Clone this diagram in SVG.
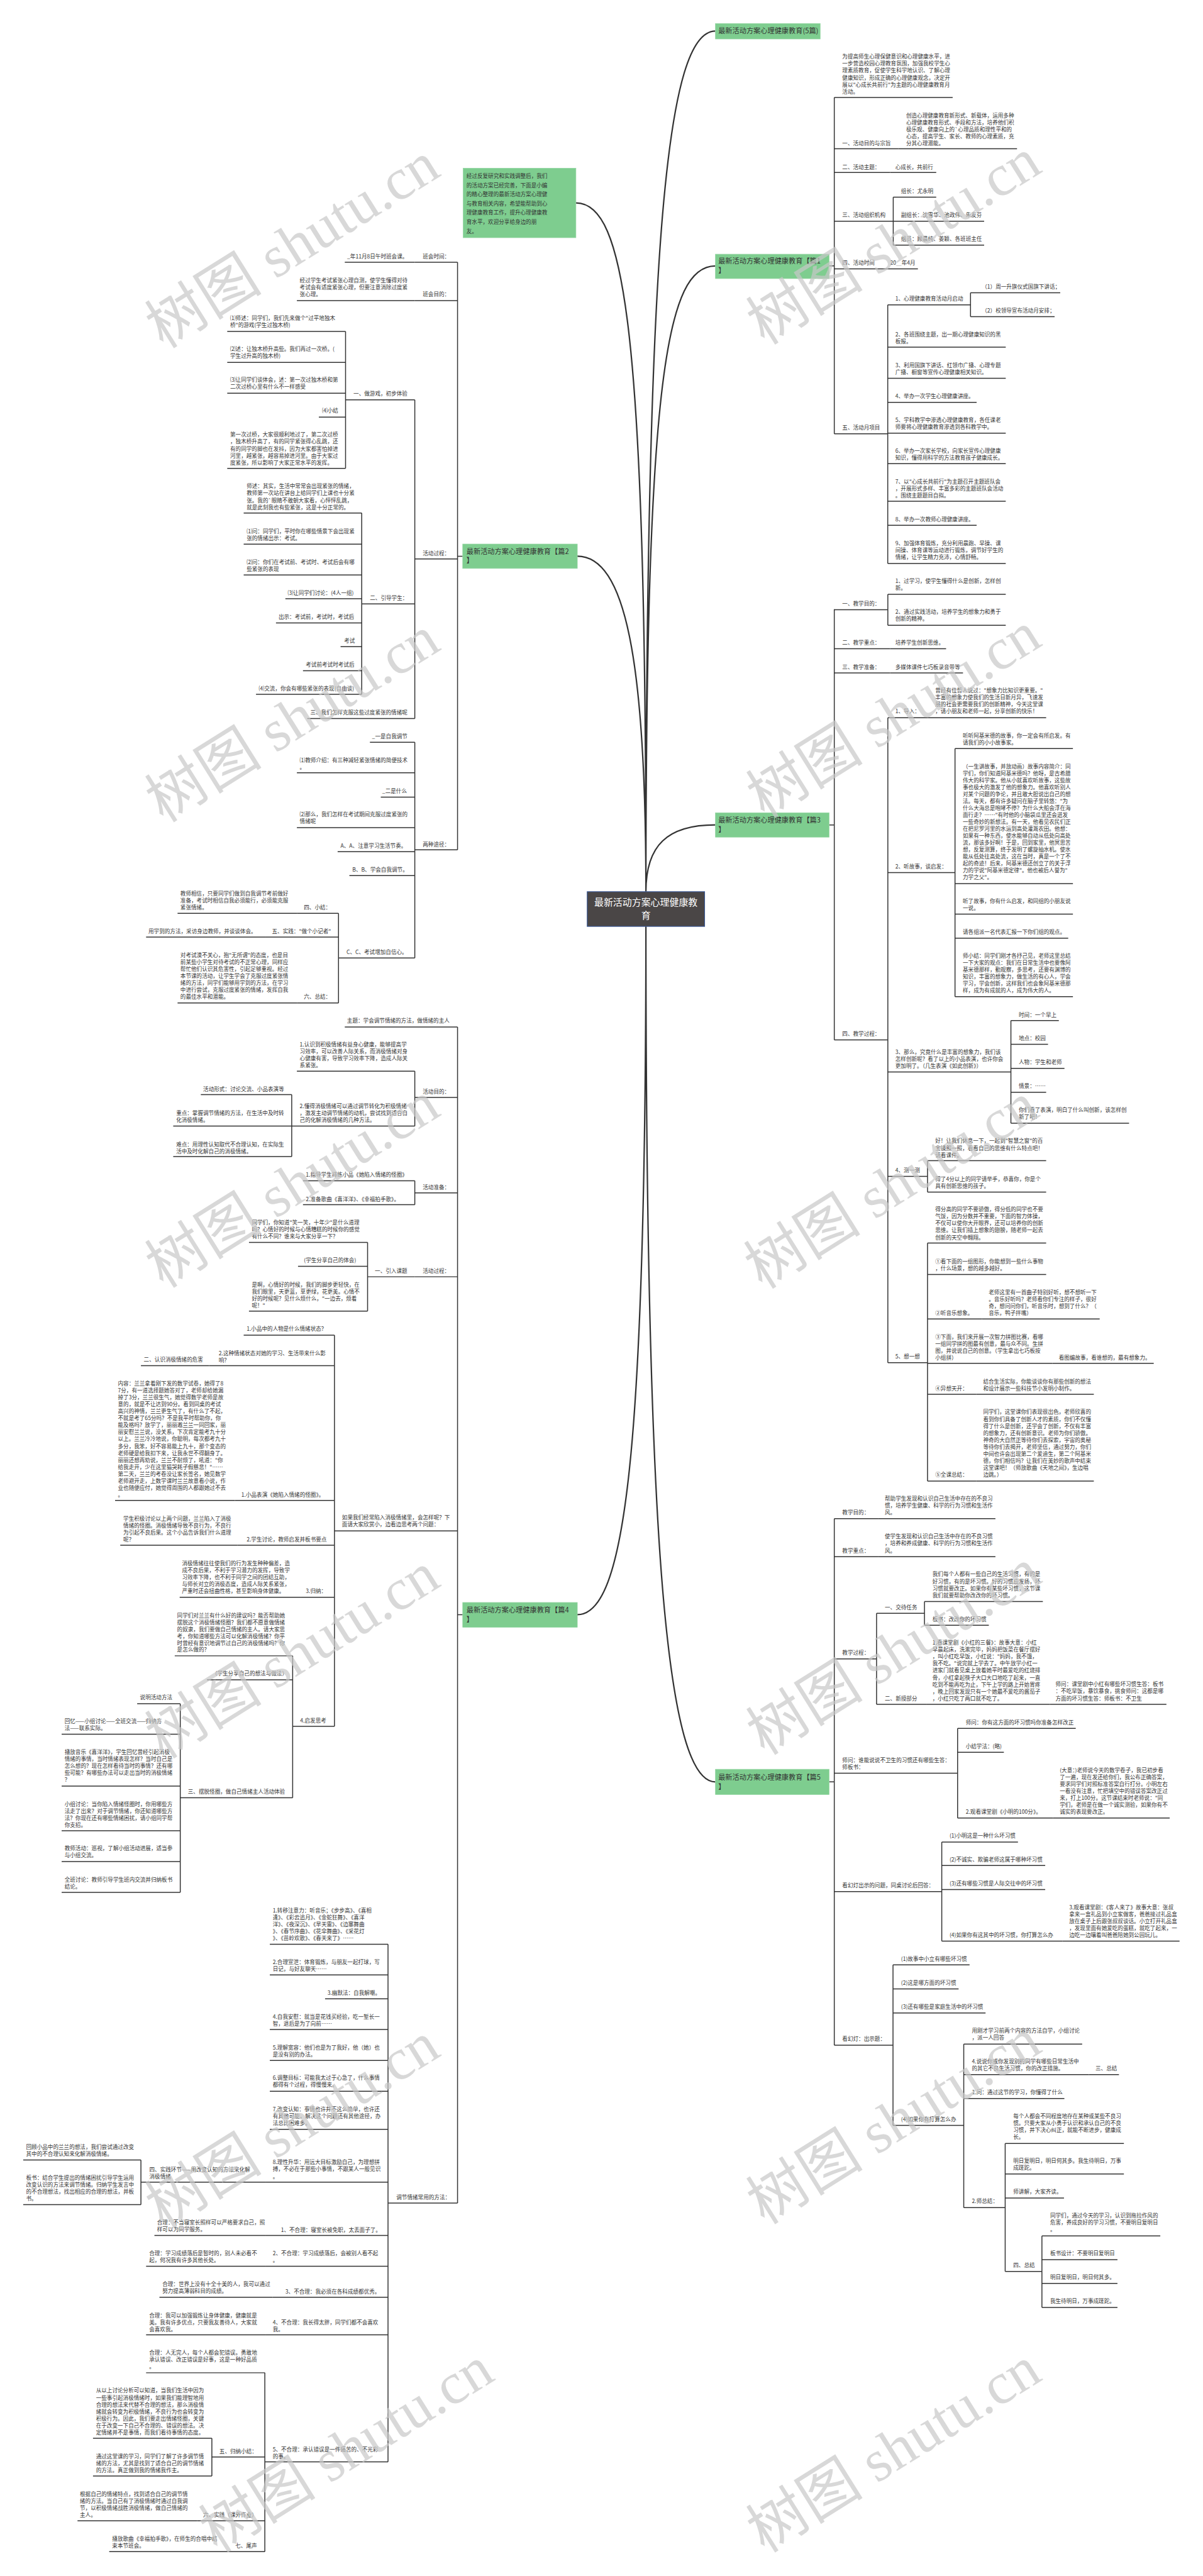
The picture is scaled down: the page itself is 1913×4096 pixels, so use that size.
<svg xmlns="http://www.w3.org/2000/svg" width="1913" height="4096" viewBox="0 0 1913 4096">
<style>
text{font-family:'Noto Sans CJK SC','Noto Sans',sans-serif}
.t{font-size:11.5px;fill:#333}
.u{stroke:#333;stroke-width:2;fill:none}
.c{stroke:#333;stroke-width:2;fill:none}
.cv{stroke:#333;stroke-width:3;fill:none}
.b{fill:#7ecd8f;stroke:#95d6a3;stroke-width:1}
.bt{font-size:15px;fill:#333}
.wm{font-family:'Liberation Serif','Noto Sans CJK SC',serif;font-size:125px;fill:#c8c8c8;fill-opacity:0.7}
</style>
<rect width="1913" height="4096" fill="#fff"/>
<g transform="scale(0.747)">
<g id="connectors">
<path class="cv" d="M1375 1898C1375 500 1420 66 1523 66M1375 1898C1375 800 1420 566 1523 566M1375 1898C1375 700 1330 432 1226 432M1375 1898C1375 1400 1330 1184 1229 1184M1375 1898C1375 1800 1420 1756 1523 1756M1375 1972C1375 3100 1330 3437 1229 3437M1375 1972C1375 3300 1420 3793 1523 3793"/>
<path class="c" d="M1765 566H1776M1776 207.5V923.4M1901.5 419.6V521.9M1889.8 648.8V1199.5M2066 623V674M1765 1756H1776M1776 1296.7V2213.6M1890 1265V1331M1890 1527.8V2900.5M2033 1593.4V2121.4M2152 2172.5V2391M1974.5 2470.5V2537.4M1974.5 2646V3152.5M1765 3793H1776M1776 3232.7V4353.5M1866 3434V3628M1968 3409V3459.4M2038.5 3679V3869.7M2004.8 3921V4132M1901 4182.4V4524M2051.6 4351V4699M2139.8 4562.5V4835M2218 4759.4V4911.6"/>
<path class="c" d="M985 1184H974M974 558.3V1809M883 851V1529.6M735.6 705.6V997M770 1092V1478M883 1580V2039M720.6 1944V2135M985 3437H974M974 2186V4689.4M883 2280V2397M621 2330V2462M883 2513.5V2564.4M782.5 2644.7V2790.7M712 2842V3674.6M623 3524.6V3826.7M383.75 3626.4V4028M826 4138.7V5240.4M300 4597.6V4692.8M563.75 5050.7V5431.4M451 5190V5270.5"/>
</g>

<g id="center"><rect x="1250" y="1898" width="250" height="74" fill="#4a4646" stroke="#3a5a9a" stroke-width="1.5"/><text x="1375" y="1928" text-anchor="middle" font-size="20" fill="#fff">最新活动方案心理健康教<tspan x="1375" dy="27.5">育</tspan></text></g>

<g id="note"><rect x="986" y="358" width="240" height="148" fill="#7ecd8f" stroke="#95d6a3"/><text class="t" font-size="13" x="993" y="379">经过反复研究和实践调整后，我们<tspan x="993" dy="19.5">的活动方案已经完善，下面是小编</tspan><tspan x="993" dy="19.5">的精心整理的最新活动方案心理健</tspan><tspan x="993" dy="19.5">与教育相关内容，希望能帮助到心</tspan><tspan x="993" dy="19.5">理健康教育工作，提升心理健康教</tspan><tspan x="993" dy="19.5">育水平，欢迎分享给身边的朋</tspan><tspan x="993" dy="19.5">友。</tspan></text></g>

<g id="b0"><rect class="b" x="1523" y="50" width="223" height="33"/><text class="bt" x="1529" y="71">最新活动方案心理健康教育(5篇)</text></g>
<g id="b1"><rect class="b" x="1523" y="541" width="242" height="52"/><text class="bt" x="1529" y="561">最新活动方案心理健康教育【篇1<tspan x="1529" dy="19.6">】</tspan></text></g>
<g id="b3"><rect class="b" x="1523" y="1730" width="242" height="52"/><text class="bt" x="1529" y="1751">最新活动方案心理健康教育【篇3<tspan x="1529" dy="19.6">】</tspan></text></g>
<g id="b5"><rect class="b" x="1523" y="3766" width="242" height="54"/><text class="bt" x="1529" y="3789">最新活动方案心理健康教育【篇5<tspan x="1529" dy="19.6">】</tspan></text></g>
<g id="b2"><rect class="b" x="985" y="1158" width="244" height="52"/><text class="bt" x="993" y="1179">最新活动方案心理健康教育【篇2<tspan x="993" dy="19.6">】</tspan></text></g>
<g id="b4"><rect class="b" x="985" y="3411" width="244" height="53"/><text class="bt" x="993" y="3433">最新活动方案心理健康教育【篇4<tspan x="993" dy="19.6">】</tspan></text></g>

<g id="p1-intro"><text class="t" x="1793" y="125">为提高师生心理保健意识和心理健康水平，进<tspan x="1793" dy="14.8">一步营造校园心理教育氛围，加强我校学生心</tspan><tspan x="1793" dy="14.8">理素质教育，促使学生科学地认识、了解心理</tspan><tspan x="1793" dy="14.8">健康知识，形成正确的心理健康观念，决定开</tspan><tspan x="1793" dy="14.8">展以"心成长共前行"为主题的心理健康教育月</tspan><tspan x="1793" dy="14.8">活动。</tspan></text><path class="u" d="M1776 207.5H2028"/></g>
<g id="p1-a"><text class="t" x="1793" y="309">一、活动目的与宗旨</text><path class="u" d="M1776 316.7H1912"/></g>
<g id="p1-a1"><text class="t" x="1929" y="250">创造心理健康教育新形式、新载体，运用多种<tspan x="1929" dy="14.8">心理健康教育形式、手段和方法，培养他们积</tspan><tspan x="1929" dy="14.8">极乐观、健康向上的`心理品质和理性平和的</tspan><tspan x="1929" dy="14.8">心态，提高学生、家长、教师的心理素质，充</tspan><tspan x="1929" dy="14.8">分其心理潜能。</tspan></text><path class="u" d="M1912 316.7H2165"/></g>
<g id="p1-b"><text class="t" x="1793" y="360.5">二、活动主题：</text><path class="u" d="M1776 367H1895"/></g>
<g id="p1-b1"><text class="t" x="1906" y="360.5">心成长，共前行</text><path class="u" d="M1895 367H1993"/></g>
<g id="p1-c"><text class="t" x="1793" y="461.5">三、活动组织机构</text><path class="u" d="M1776 470.8H1901.5"/></g>
<g id="p1-c1"><text class="t" x="1918" y="411">组长：尤永明</text><path class="u" d="M1901.5 419.6H1993"/></g>
<g id="p1-c2"><text class="t" x="1918" y="461.5">副组长：沈雪华、池政伟、朱友芬</text><path class="u" d="M1901.5 470.8H2095"/></g>
<g id="p1-c3"><text class="t" x="1918" y="512.6">组员：顾晨纯、姜颖、各班班主任</text><path class="u" d="M1901.5 521.9H2095"/></g>
<g id="p1-d"><text class="t" x="1793" y="563">四、活动时间</text><path class="u" d="M1776 572.4H1880"/></g>
<g id="p1-d1"><text class="t" x="1895" y="563">20＿年4月</text><path class="u" d="M1880 572.4H1954"/></g>
<g id="p1-e"><text class="t" x="1793" y="914.8">五、活动月项目</text><path class="u" d="M1776 923.4H1889.8"/></g>
<g id="p1-e1"><text class="t" x="1906" y="640">1、心理健康教育活动月启动</text><path class="u" d="M1889.8 648.8H2066"/></g>
<g id="p1-e1a"><text class="t" x="2090" y="614">（1）周一升旗仪式国旗下讲话；</text><path class="u" d="M2066 623H2257"/></g>
<g id="p1-e1b"><text class="t" x="2090" y="665">（2）校领导宣布活动月安排；</text><path class="u" d="M2066 674H2245"/></g>
<g id="p1-e2"><text class="t" x="1906" y="716.5">2、各班围绕主题，出一期心理健康知识的黑<tspan x="1906" dy="14.8">板报。</tspan></text><path class="u" d="M1889.8 739H2141"/></g>
<g id="p1-e3"><text class="t" x="1906" y="781.6">3、利用国旗下讲话、红领巾广播、心理专题<tspan x="1906" dy="14.8">广播、橱窗等宣传心理健康相关知识。</tspan></text><path class="u" d="M1889.8 805.3H2141"/></g>
<g id="p1-e4"><text class="t" x="1906" y="848">4、举办一次学生心理健康讲座。</text><path class="u" d="M1889.8 856.5H2079"/></g>
<g id="p1-e5"><text class="t" x="1906" y="898">5、学科教学中渗透心理健康教育，各任课老<tspan x="1906" dy="14.8">师要将心理健康教育渗透到各科教学中。</tspan></text><path class="u" d="M1889.8 922H2141"/></g>
<g id="p1-e6"><text class="t" x="1906" y="964">6、举办一次家长学校，向家长宣传心理健康<tspan x="1906" dy="14.8">知识，懂得用科学的方法教育孩子健康成长。</tspan></text><path class="u" d="M1889.8 987H2141"/></g>
<g id="p1-e7"><text class="t" x="1906" y="1029">7、以"心成长共前行"为主题召开主题班队会<tspan x="1906" dy="14.8">，开展形式多样、丰富多彩的主题班队会活动</tspan><tspan x="1906" dy="14.8">。围绕主题题目自拟。</tspan></text><path class="u" d="M1889.8 1067H2141"/></g>
<g id="p1-e8"><text class="t" x="1906" y="1110">8、举办一次教师心理健康讲座。</text><path class="u" d="M1889.8 1118H2079"/></g>
<g id="p1-e9"><text class="t" x="1906" y="1160.6">9、加强体育锻炼，充分利用晨跑、早操、课<tspan x="1906" dy="14.8">间操、体育课等运动进行锻炼，调节好学生的</tspan><tspan x="1906" dy="14.8">情绪，让学生精力充沛，心情舒畅。</tspan></text><path class="u" d="M1889.8 1199.5H2141"/></g>

<g id="p3-a"><text class="t" x="1793" y="1289.4">一、教学目的：</text><path class="u" d="M1776 1298H1890"/></g>
<g id="p3-a1"><text class="t" x="1906" y="1241">1、过学习，使学生懂得什么是创新，怎样创<tspan x="1906" dy="14.8">新。</tspan></text><path class="u" d="M1890 1265H2141"/></g>
<g id="p3-a2"><text class="t" x="1906" y="1307">2、通过实践活动，培养学生的想象力和勇于<tspan x="1906" dy="14.8">创新的精神。</tspan></text><path class="u" d="M1890 1331H2141"/></g>
<g id="p3-b"><text class="t" x="1793" y="1372.7">二、教学重点：</text><path class="u" d="M1776 1381H1895"/></g>
<g id="p3-b1"><text class="t" x="1906" y="1372.7">培养学生创新思维。</text><path class="u" d="M1895 1381H2014"/></g>
<g id="p3-c"><text class="t" x="1793" y="1423.8">三、教学准备：</text><path class="u" d="M1776 1432.4H1895"/></g>
<g id="p3-c1"><text class="t" x="1906" y="1423.8">多媒体课件七巧板录音带等</text><path class="u" d="M1895 1432.4H2050"/></g>
<g id="p3-d"><text class="t" x="1793" y="2205">四、教学过程：</text><path class="u" d="M1776 2213.6H1890"/></g>
<g id="p3-d1"><text class="t" x="1906" y="1518.5">1、导入：</text><path class="u" d="M1890 1527.8H1975"/></g>
<g id="p3-d1a"><text class="t" x="1991" y="1474">曾经有位哲人说过："想象力比知识更重要。"<tspan x="1991" dy="14.8">丰富的想象力使我们的生活日新月异，飞速发</tspan><tspan x="1991" dy="14.8">展的社会更需要我们的创新精神，今天这堂课</tspan><tspan x="1991" dy="14.8">，请小朋友和老师一起，分享创新的快乐！</tspan></text><path class="u" d="M1975 1527.8H2227"/></g>
<g id="p3-d2"><text class="t" x="1906" y="1848.7">2、听故事，谈启发：</text><path class="u" d="M1890 1857.3H2033"/></g>
<g id="p3-d2a"><text class="t" x="2049.6" y="1569.7">听听阿基米德的故事，你一定会有所启发。有<tspan x="2049.6" dy="14.8">请我们的小小故事家。</tspan></text><path class="u" d="M2033 1593.4H2284"/></g>
<g id="p3-d2b"><text class="t" x="2049.6" y="1635.3">（一生讲故事，并放动画）故事内容简介：同<tspan x="2049.6" dy="14.8">学们，你们知道阿基米德吗？他呀，是古希腊</tspan><tspan x="2049.6" dy="14.8">伟大的科学家。他从小就喜欢听故事，这些故</tspan><tspan x="2049.6" dy="14.8">事也极大的激发了他的想象力。他喜欢听别人</tspan><tspan x="2049.6" dy="14.8">对某个问题的争论，并且敢大胆说出自己的想</tspan><tspan x="2049.6" dy="14.8">法。每天，都有许多疑问在脑子里转悠："为</tspan><tspan x="2049.6" dy="14.8">什么大海总是咆哮不停？为什么大船会浮在海</tspan><tspan x="2049.6" dy="14.8">面行走？……"有时他的小脑袋瓜里还会迸发</tspan><tspan x="2049.6" dy="14.8">一些奇妙的新想法。有一天，他看见农民们正</tspan><tspan x="2049.6" dy="14.8">在把尼罗河里的水运到高处灌溉农田。他想：</tspan><tspan x="2049.6" dy="14.8">如果有一种东西，使水能够自动从低处向高处</tspan><tspan x="2049.6" dy="14.8">流，那该多好啊！于是，回到家里，他冥思苦</tspan><tspan x="2049.6" dy="14.8">想，反复测算，终于发明了螺旋抽水机。使水</tspan><tspan x="2049.6" dy="14.8">能从低处往高处流，这在当时，真是一个了不</tspan><tspan x="2049.6" dy="14.8">起的奇迹！后来，阿基米德还创立了的关于浮</tspan><tspan x="2049.6" dy="14.8">力的学说"阿基米德定律"。他也被后人誉为"</tspan><tspan x="2049.6" dy="14.8">力学之父"。</tspan></text><path class="u" d="M2033 1880.7H2284"/></g>
<g id="p3-d2c"><text class="t" x="2049.6" y="1922.6">听了故事，你有什么启发，和同组的小朋友说<tspan x="2049.6" dy="14.8">一说。</tspan></text><path class="u" d="M2033 1945.7H2284"/></g>
<g id="p3-d2d"><text class="t" x="2049.6" y="1988">请各组派一名代表汇报一下你们组的观点。</text><path class="u" d="M2033 1997H2274"/></g>
<g id="p3-d2e"><text class="t" x="2049.6" y="2039">师小结：同学们刚才各抒己见，老师这里总结<tspan x="2049.6" dy="14.8">一下大家的观点：我们在日常生活中也要像阿</tspan><tspan x="2049.6" dy="14.8">基米德那样，勤观察，多思考，还要有渊博的</tspan><tspan x="2049.6" dy="14.8">知识，丰富的想象力，做生活的有心人，学会</tspan><tspan x="2049.6" dy="14.8">学习，学会创新，这样我们也会象阿基米德那</tspan><tspan x="2049.6" dy="14.8">样，成为有成就的人，成为伟大的人。</tspan></text><path class="u" d="M2033 2121.4H2284"/></g>
<g id="p3-d3"><text class="t" x="1906" y="2243.5">3、那么，究竟什么是丰富的想象力，我们该<tspan x="1906" dy="14.8">怎样创新呢？看了以上的小品表演，也许你会</tspan><tspan x="1906" dy="14.8">更加明了。（几生表演《如此创新》）</tspan></text><path class="u" d="M1890 2281.8H2152"/></g>
<g id="p3-d3a"><text class="t" x="2168.7" y="2164">时间：一个早上</text><path class="u" d="M2152 2172.5H2254"/></g>
<g id="p3-d3b"><text class="t" x="2168.7" y="2214.4">地点：校园</text><path class="u" d="M2152 2223H2231"/></g>
<g id="p3-d3c"><text class="t" x="2168.7" y="2265.6">人物：学生和老师</text><path class="u" d="M2152 2274H2266"/></g>
<g id="p3-d3d"><text class="t" x="2168.7" y="2316">情景：……</text><path class="u" d="M2152 2325H2227"/></g>
<g id="p3-d3e"><text class="t" x="2168.7" y="2367">你们看了表演，明白了什么叫创新，该怎样创<tspan x="2168.7" dy="14.8">新了吧！</tspan></text><path class="u" d="M2152 2391H2403.5"/></g>
<g id="p3-d4"><text class="t" x="1906" y="2495.4">4、测一测</text><path class="u" d="M1890 2504H1974.5"/></g>
<g id="p3-d4a"><text class="t" x="1991" y="2433">好！让我们休息一下，一起到"智慧之窗"的百<tspan x="1991" dy="14.8">宝镜照一照，看看自己的思维有什么特点吧！</tspan><tspan x="1991" dy="14.8">请看课件。</tspan></text><path class="u" d="M1974.5 2470.5H2227"/></g>
<g id="p3-d4b"><text class="t" x="1991" y="2513.7">得了4分以上的同学请举手，恭喜你，你是个<tspan x="1991" dy="14.8">具有创新思维的孩子。</tspan></text><path class="u" d="M1974.5 2537.4H2227"/></g>
<g id="p3-d5"><text class="t" x="1906" y="2891">5、想一想</text><path class="u" d="M1890 2900.5H1974.5"/></g>
<g id="p3-d5a"><text class="t" x="1991" y="2578.7">得分高的同学不要骄傲，得分低的同学也不要<tspan x="1991" dy="14.8">气馁，因为分数并不重要，下面的智力体操，</tspan><tspan x="1991" dy="14.8">不仅可以使你大开眼界，还可以培养你的创新</tspan><tspan x="1991" dy="14.8">思维。让我们插上想象的翅膀，随老师一起去</tspan><tspan x="1991" dy="14.8">创新的天空中翱翔。</tspan></text><path class="u" d="M1974.5 2646H2227"/></g>
<g id="p3-d5b"><text class="t" x="1991" y="2689">①看下面的一组图形，你能想到一些什么事物<tspan x="1991" dy="14.8">，什么场景，想的越多越好。</tspan></text><path class="u" d="M1974.5 2713H2227"/></g>
<g id="p3-d5c"><text class="t" x="1991" y="2799">②听音乐想象。</text><path class="u" d="M1974.5 2807.7H2090"/></g>
<g id="p3-d5c1"><text class="t" x="2104.7" y="2755">老师这里有一首曲子特别好听，想不想听一下<tspan x="2104.7" dy="14.8">。音乐好听吗？老师看你们专注的样子，很好</tspan><tspan x="2104.7" dy="14.8">奇，想问问你们，听音乐时，想到了什么？（</tspan><tspan x="2104.7" dy="14.8">音乐，鸭子拌嘴）</tspan></text><path class="u" d="M2090 2807.7H2341"/></g>
<g id="p3-d5d"><text class="t" x="1991" y="2850">③下面，我们来开展一次智力拼图比赛，看哪<tspan x="1991" dy="14.8">一组同学拼的图最有创意，最与众不同。生拼</tspan><tspan x="1991" dy="14.8">图，并说说自己的创意。（学生拿出七巧板按</tspan><tspan x="1991" dy="14.8">小组拼）</tspan></text><path class="u" d="M1974.5 2902H2240"/></g>
<g id="p3-d5d1"><text class="t" x="2254" y="2893.7">看图编故事，看谁想的，最有想象力。</text><path class="u" d="M2240 2902H2456"/></g>
<g id="p3-d5e"><text class="t" x="1991" y="2960">④异想天开：</text><path class="u" d="M1974.5 2968H2078"/></g>
<g id="p3-d5e1"><text class="t" x="2093" y="2945">结合生活实际，你能谈谈你有那些创新的想法<tspan x="2093" dy="14.8">和设计展示一些科技节小发明小制作。</tspan></text><path class="u" d="M2078 2968H2328.5"/></g>
<g id="p3-d5f"><text class="t" x="1991" y="3143.3">⑤全课总结：</text><path class="u" d="M1974.5 3152.5H2078"/></g>
<g id="p3-d5f1"><text class="t" x="2093" y="3010">同学们，这堂课你们表现很出色，老师欣喜的<tspan x="2093" dy="14.8">看到你们具备了创新人才的素质，你们不仅懂</tspan><tspan x="2093" dy="14.8">得了什么是创新，还学会了创新，不仅有丰富</tspan><tspan x="2093" dy="14.8">的想象力，还有创新意识。老师为你们骄傲。</tspan><tspan x="2093" dy="14.8">神奇的大自然正等待你们去探索，宇宙的奥秘</tspan><tspan x="2093" dy="14.8">等待你们去揭开，老师坚信，通过努力，你们</tspan><tspan x="2093" dy="14.8">中间也许会出现第二个爱迪生，第二个阿基米</tspan><tspan x="2093" dy="14.8">德，你们相信吗？让我们在美妙的歌声中结束</tspan><tspan x="2093" dy="14.8">这堂课吧！（师放歌曲《天地之间》，生边唱</tspan><tspan x="2093" dy="14.8">边跳。）</tspan></text><path class="u" d="M2078 3152.5H2328.5"/></g>

<g id="p5-a"><text class="t" x="1793" y="3223.5">教学目的：</text><path class="u" d="M1776 3232.7H1870"/></g>
<g id="p5-a1"><text class="t" x="1883.6" y="3194.4">帮助学生发现和认识自己生活中存在的不良习<tspan x="1883.6" dy="14.8">惯，培养学生健康、科学的行为习惯和生活作</tspan><tspan x="1883.6" dy="14.8">风。</tspan></text><path class="u" d="M1870 3232.7H2119"/></g>
<g id="p5-b"><text class="t" x="1793" y="3305">教学重点：</text><path class="u" d="M1776 3313.5H1870"/></g>
<g id="p5-b1"><text class="t" x="1883.6" y="3275">使学生发现和认识自己生活中存在的不良习惯<tspan x="1883.6" dy="14.8">，培养和养成健康、科学的行为习惯和生活作</tspan><tspan x="1883.6" dy="14.8">风。</tspan></text><path class="u" d="M1870 3313.5H2119"/></g>
<g id="p5-c"><text class="t" x="1793" y="3522">教学过程：</text><path class="u" d="M1776 3531H1866"/></g>
<g id="p5-c1"><text class="t" x="1883.6" y="3425.5">一、交待任务</text><path class="u" d="M1866 3434H1968"/></g>
<g id="p5-c1a"><text class="t" x="1985" y="3355.4">我们每个人都有一些自己的生活习惯，有的是<tspan x="1985" dy="14.8">好习惯，有的是坏习惯。好的习惯应发扬，坏</tspan><tspan x="1985" dy="14.8">习惯就要改正。如果你有某些坏习惯，这节课</tspan><tspan x="1985" dy="14.8">我们就要帮助你改改你的坏习惯。</tspan></text><path class="u" d="M1968 3409H2220"/></g>
<g id="p5-c1b"><text class="t" x="1985" y="3450.7">板书：改改你的坏习惯</text><path class="u" d="M1968 3459.4H2105"/></g>
<g id="p5-c2"><text class="t" x="1883.6" y="3619.3">二、新授部分</text><path class="u" d="M1866 3628H1972"/></g>
<g id="p5-c2a"><text class="t" x="1985" y="3501">1.看课堂剧《小红的三餐》：故事大意：小红<tspan x="1985" dy="14.8">早晨起床，洗漱完毕，妈妈把饭菜在餐厅摆好</tspan><tspan x="1985" dy="14.8">，叫小红吃早饭，小红说："妈妈，我不饿，</tspan><tspan x="1985" dy="14.8">我不吃。"说完就上学去了。中午放学小红一</tspan><tspan x="1985" dy="14.8">进家门就看见桌上放着她平时最爱吃的红烧排</tspan><tspan x="1985" dy="14.8">骨，小红拿起筷子大口大口地吃了起来，一直</tspan><tspan x="1985" dy="14.8">吃到不能再吃为止，下午上学的路上开始胃疼</tspan><tspan x="1985" dy="14.8">，晚上回家发现只有一个她最不爱吃的酱茄子</tspan><tspan x="1985" dy="14.8">，小红只吃了两口就不吃了。</tspan></text><path class="u" d="M1972 3628H2235"/></g>
<g id="p5-c2b"><text class="t" x="2247" y="3589.6">师问：课堂剧中小红有哪些坏习惯生答：板书<tspan x="2247" dy="14.8">：不吃早饭，暴饮暴食，挑食师问：这都是哪</tspan><tspan x="2247" dy="14.8">方面的坏习惯生答：师板书：不卫生</tspan></text><path class="u" d="M2235 3628H2483"/></g>
<g id="p5-d"><text class="t" x="1793" y="3750.6">师问：谁能说说不卫生的习惯还有哪些生答：<tspan x="1793" dy="14.8">师板书：</tspan></text><path class="u" d="M1776 3774.4H2038.5"/></g>
<g id="p5-d1"><text class="t" x="2055.8" y="3670.4">师问：你有这方面的坏习惯吗你准备怎样改正</text><path class="u" d="M2038.5 3679H2290"/></g>
<g id="p5-d2"><text class="t" x="2055.8" y="3721.6">小结学法：(略)</text><path class="u" d="M2038.5 3730H2137"/></g>
<g id="p5-d3"><text class="t" x="2055.8" y="3860.5">2.观看课堂剧《小明的100分》。</text><path class="u" d="M2038.5 3869.7H2242"/></g>
<g id="p5-d3a"><text class="t" x="2256" y="3772">(大意：)老师说今天的数学卷子，我已初步看<tspan x="2256" dy="14.8">了一遍，现在发还给你们，我公布正确答案，</tspan><tspan x="2256" dy="14.8">要求同学们对照标准答案自行打分。小明左右</tspan><tspan x="2256" dy="14.8">一看没有注意，忙把填空中的错误答案改正过</tspan><tspan x="2256" dy="14.8">来，打上100分。这节课结束时老师说："同</tspan><tspan x="2256" dy="14.8">学们，老师是在做一个诚实测验，如果你有不</tspan><tspan x="2256" dy="14.8">诚实的表现要改正。</tspan></text><path class="u" d="M2242 3869.7H2490"/></g>
<g id="p5-e"><text class="t" x="1793" y="4017.2">看幻灯出示的问题，同桌讨论后回答：</text><path class="u" d="M1776 4026.5H2004.8"/></g>
<g id="p5-e1"><text class="t" x="2021.3" y="3911">(1)小明这是一种什么坏习惯</text><path class="u" d="M2004.8 3921H2167"/></g>
<g id="p5-e2"><text class="t" x="2021.3" y="3963">(2)不诚实、欺骗老师这属于哪种坏习惯</text><path class="u" d="M2004.8 3971H2225"/></g>
<g id="p5-e3"><text class="t" x="2021.3" y="4013.4">(3)还有哪些习惯是人际交往中的坏习惯</text><path class="u" d="M2004.8 4022H2225"/></g>
<g id="p5-e4"><text class="t" x="2021.3" y="4123.3">(4)如果你有这其中的坏习惯，你打算怎么办</text><path class="u" d="M2004.8 4132H2262"/></g>
<g id="p5-e4a"><text class="t" x="2276" y="4064">3.观看课堂剧：《客人来了》故事大意：张叔<tspan x="2276" dy="14.8">拿来一盒礼品到小立家做客，爸爸接过礼品盒</tspan><tspan x="2276" dy="14.8">放在桌子上后跟张叔叔谈话。小立打开礼品盒</tspan><tspan x="2276" dy="14.8">，发现里面有她爱吃的蛋糕，就吃了起来，一</tspan><tspan x="2276" dy="14.8">边吃一边嚷着叫爸爸陪她到公园玩儿。</tspan></text><path class="u" d="M2262 4132H2511"/></g>
<g id="p5-f"><text class="t" x="1793" y="4344">看幻灯：出示题：</text><path class="u" d="M1776 4353.5H1901"/></g>
<g id="p5-f1"><text class="t" x="1918" y="4173.8">(1)故事中小立有哪些坏习惯</text><path class="u" d="M1901 4182.4H2064"/></g>
<g id="p5-f2"><text class="t" x="1918" y="4225">(2)这是哪方面的坏习惯</text><path class="u" d="M1901 4233.6H2040.6"/></g>
<g id="p5-f3"><text class="t" x="1918" y="4276">(3)还有哪些是家庭生活中的坏习惯</text><path class="u" d="M1901 4284.7H2098"/></g>
<g id="p5-f4"><text class="t" x="1918" y="4515.3">(4)如果你有打算怎么办</text><path class="u" d="M1901 4524H2051.6"/></g>
<g id="p5-f4a"><text class="t" x="2069" y="4326.6">用刚才学习前两个内容的方法自学，小组讨论<tspan x="2069" dy="14.8">，派一人回答</tspan></text><path class="u" d="M2051.6 4351H2303.7"/></g>
<g id="p5-f4b"><text class="t" x="2069" y="4392">4.说说你或你发现别的同学有哪些日常生活中<tspan x="2069" dy="14.8">的其它不良生活习惯，你的改正措施。</tspan></text><path class="u" d="M2051.6 4416H2318"/></g>
<g id="p5-f4b1"><text class="t" x="2332" y="4407.4">三、总结</text><path class="u" d="M2318 4416H2382"/></g>
<g id="p5-f4c"><text class="t" x="2069" y="4458.5">1.问：通过这节的学习，你懂得了什么</text><path class="u" d="M2051.6 4467H2265.8"/></g>
<g id="p5-f4d"><text class="t" x="2069" y="4689.6">2.师总结：</text><path class="u" d="M2051.6 4699H2139.8"/></g>
<g id="p5-f4d1"><text class="t" x="2157" y="4509">每个人都会不同程度地存在某种或某些不良习<tspan x="2157" dy="14.8">惯。只要大家从小勇于认识和承认自己的不良</tspan><tspan x="2157" dy="14.8">习惯，并下决心纠正，就能不断进步，健康成</tspan><tspan x="2157" dy="14.8">长。</tspan></text><path class="u" d="M2139.8 4562.5H2392.5"/></g>
<g id="p5-f4d2"><text class="t" x="2157" y="4604">明日复明日，明日何其多。我生待明日，万事<tspan x="2157" dy="14.8">成蹉跎。</tspan></text><path class="u" d="M2139.8 4627.5H2392.5"/></g>
<g id="p5-f4d3"><text class="t" x="2157" y="4670">师讲解，大家齐读。</text><path class="u" d="M2139.8 4678.6H2265"/></g>
<g id="p5-f4d4"><text class="t" x="2157" y="4826">四、总结</text><path class="u" d="M2139.8 4835H2218"/></g>
<g id="p5-f4d4a"><text class="t" x="2235.5" y="4720.5">同学们，通过今天的学习，认识到拖拉作风的<tspan x="2235.5" dy="14.8">危害，养成良好的学习习惯，不要明日复明日</tspan><tspan x="2235.5" dy="14.8">。</tspan></text><path class="u" d="M2218 4759.4H2470"/></g>
<g id="p5-f4d4b"><text class="t" x="2235.5" y="4800.7">板书设计：不要明日复明日</text><path class="u" d="M2218 4810H2378.8"/></g>
<g id="p5-f4d4c"><text class="t" x="2235.5" y="4851.8">明日复明日，明日何其多。</text><path class="u" d="M2218 4860.5H2378.8"/></g>
<g id="p5-f4d4d"><text class="t" x="2235.5" y="4902">我生待明日，万事成蹉跎。</text><path class="u" d="M2218 4911.6H2378.8"/></g>

<g id="p2-a"><text class="t" x="900" y="550">班会时间：</text><path class="u" d="M883 558.3H974"/></g>
<g id="p2-a1"><text class="t" x="739" y="550">_年11月8日午时班会课。</text><path class="u" d="M734 558.3H883"/></g>
<g id="p2-b"><text class="t" x="900" y="630.6">班会目的：</text><path class="u" d="M883 640H974"/></g>
<g id="p2-b1"><text class="t" x="638" y="601">经过学生考试紧张心理自测，使学生懂得对待<tspan x="638" dy="14.8">考试会有适度紧张心理，但要注意消除过度紧</tspan><tspan x="638" dy="14.8">张心理。</tspan></text><path class="u" d="M632 640H883"/></g>
<g id="p2-c"><text class="t" x="900" y="1181.6">活动过程：</text><path class="u" d="M883 1189.7H974"/></g>
<g id="p2-c1"><text class="t" x="752.5" y="842">一、做游戏，初步体验</text><path class="u" d="M735.6 851H883"/></g>
<g id="p2-c1a"><text class="t" x="490" y="681.6">⑴师述：同学们，我们先来做个"过平地独木<tspan x="490" dy="14.8">桥"的游戏(学生过独木桥)</tspan></text><path class="u" d="M483.75 705.6H735.6"/></g>
<g id="p2-c1b"><text class="t" x="490" y="747">⑵述：让独木桥升高些。我们再过一次桥。(<tspan x="490" dy="14.8">学生过升高的独木桥)</tspan></text><path class="u" d="M483.75 771.3H735.6"/></g>
<g id="p2-c1c"><text class="t" x="490" y="813">⑶让同学们谈体会，述：第一次过独木桥和第<tspan x="490" dy="14.8">二次过桥心里有什么不一样感受</tspan></text><path class="u" d="M483.75 837H735.6"/></g>
<g id="p2-c1d"><text class="t" x="685.6" y="878.6">⑷小结</text><path class="u" d="M678.75 888H735.6"/></g>
<g id="p2-c1e"><text class="t" x="490" y="929.6">第一次过桥，大家很顺利地过了，第二次过桥<tspan x="490" dy="14.8">，独木桥升高了，有的同学紧张得心乱跳，还</tspan><tspan x="490" dy="14.8">有的同学的脚也在发抖，因为大家都害怕掉进</tspan><tspan x="490" dy="14.8">河里，越紧张，越容易掉进河里。由于大家过</tspan><tspan x="490" dy="14.8">度紧张，所以影响了大家正常水平的发挥。</tspan></text><path class="u" d="M483.75 997H735.6"/></g>
<g id="p2-c2"><text class="t" x="787.5" y="1276.6">二、引导学生：</text><path class="u" d="M770 1285.4H883"/></g>
<g id="p2-c2a"><text class="t" x="525" y="1039.4">师述：其实，生活中常常会出现紧张的情绪，<tspan x="525" dy="14.8">教师第一次站在讲台上给同学们上课也十分紧</tspan><tspan x="525" dy="14.8">张。我的`眼睛不敢朝大家看，心怦怦乱跳，</tspan><tspan x="525" dy="14.8">就是此刻我也有些紧张，这是十分正常的。</tspan></text><path class="u" d="M518.75 1092H770"/></g>
<g id="p2-c2b"><text class="t" x="525" y="1135">⑴问：同学们，平时你在哪些情景下会出现紧<tspan x="525" dy="14.8">张的情绪出示：考试。</tspan></text><path class="u" d="M518.75 1158.4H770"/></g>
<g id="p2-c2c"><text class="t" x="525" y="1200.7">⑵问：你们在考试前、考试时、考试后会有哪<tspan x="525" dy="14.8">些紧张的表现</tspan></text><path class="u" d="M518.75 1224H770"/></g>
<g id="p2-c2d"><text class="t" x="612.5" y="1266.4">⑶让同学们讨论：(4人一组)</text><path class="u" d="M607.5 1274.5H770"/></g>
<g id="p2-c2e"><text class="t" x="593" y="1317.4">出示：考试前，考试时，考试后</text><path class="u" d="M587.5 1326H770"/></g>
<g id="p2-c2f"><text class="t" x="732.5" y="1367.8">考试</text><path class="u" d="M725 1376.6H770"/></g>
<g id="p2-c2g"><text class="t" x="651" y="1418.8">考试前考试时考试后</text><path class="u" d="M645 1427.6H770"/></g>
<g id="p2-c2h"><text class="t" x="551" y="1469.8">⑷交流，你会有哪些紧张的表现(自由谈)</text><path class="u" d="M545 1478H770"/></g>
<g id="p2-c3"><text class="t" x="660.6" y="1520.9">三、我们怎样克服这些过度紧张的情绪呢</text><path class="u" d="M654 1529.6H883"/></g>
<g id="p2-d"><text class="t" x="900" y="1801.5">两种途径：</text><path class="u" d="M883 1809H974"/></g>
<g id="p2-d1"><text class="t" x="792" y="1571">_一是自我调节</text><path class="u" d="M787.5 1580H883"/></g>
<g id="p2-d2"><text class="t" x="638" y="1622">⑴教师介绍：有三种减轻紧张情绪的简便技术<tspan x="638" dy="14.8">。</tspan></text><path class="u" d="M632 1645H883"/></g>
<g id="p2-d3"><text class="t" x="813.75" y="1688">_二是什么</text><path class="u" d="M810.6 1696.7H883"/></g>
<g id="p2-d4"><text class="t" x="638" y="1738">⑵那么，我们怎样在考试期间克服过度紧张的<tspan x="638" dy="14.8">情绪呢</tspan></text><path class="u" d="M632 1761.8H883"/></g>
<g id="p2-d5"><text class="t" x="725" y="1804.7">A、A、注意学习生活节奏。</text><path class="u" d="M718.75 1812.8H883"/></g>
<g id="p2-d6"><text class="t" x="750" y="1855">B、B、学会自我调节。</text><path class="u" d="M743.75 1863.8H883"/></g>
<g id="p2-d7"><text class="t" x="737.5" y="2031">C、C、考试增加自信心。</text><path class="u" d="M720.6 2039H883"/></g>
<g id="p2-d7a"><text class="t" x="647" y="1935.4">四、小结：</text><path class="u" d="M633 1944H720.6"/></g>
<g id="p2-d7a1"><text class="t" x="384" y="1906">教师相信，只要同学们做到自我调节考前做好<tspan x="384" dy="14.8">准备，考试时相信自我必须能行，必须能克服</tspan><tspan x="384" dy="14.8">紧张情绪。</tspan></text><path class="u" d="M378 1944H633"/></g>
<g id="p2-d7b"><text class="t" x="579" y="1986.4">五、实践："做个小记者"</text><path class="u" d="M565 1994.5H720.6"/></g>
<g id="p2-d7b1"><text class="t" x="316" y="1986.4">用学到的方法，采访身边教师，并谈谈体会。</text><path class="u" d="M311 1994.5H565"/></g>
<g id="p2-d7c"><text class="t" x="647" y="2126">六、总结：</text><path class="u" d="M633 2135H720.6"/></g>
<g id="p2-d7c1"><text class="t" x="384" y="2037.4">对考试漠不关心，抱"无所谓"的态度，也是目<tspan x="384" dy="14.8">前某些小学生对待考试的不正常心理，同样应</tspan><tspan x="384" dy="14.8">帮忙他们认识其危害性，引起足够重视。经过</tspan><tspan x="384" dy="14.8">本节课的活动，让学生学会了克服过度紧张情</tspan><tspan x="384" dy="14.8">绪的方法，同学们能够用学到的方法，在学习</tspan><tspan x="384" dy="14.8">中进行尝试，克服过度紧张的情绪，发挥自我</tspan><tspan x="384" dy="14.8">的最佳水平和潜能。</tspan></text><path class="u" d="M378 2135H633"/></g>

<g id="p4-a"><text class="t" x="738.75" y="2177">主题：学会调节情绪的方法，做情绪的主人</text><path class="u" d="M734 2186H974"/></g>
<g id="p4-b"><text class="t" x="900" y="2327.6">活动目的：</text><path class="u" d="M883 2336H974"/></g>
<g id="p4-b1"><text class="t" x="638" y="2227.5">1.认识到积极情绪有益身心健康，能够提高学<tspan x="638" dy="14.8">习效率，可以改善人际关系，而消极情绪对身</tspan><tspan x="638" dy="14.8">心健康有害，导致学习效率下降，造成人际关</tspan><tspan x="638" dy="14.8">系紧张。</tspan></text><path class="u" d="M632 2280H883"/></g>
<g id="p4-b2"><text class="t" x="638" y="2358.8">2.懂得消极情绪可以通过调节转化为积极情绪<tspan x="638" dy="14.8">，激发主动调节情绪的动机，尝试找到适合自</tspan><tspan x="638" dy="14.8">己的化解消极情绪的几种方法。</tspan></text><path class="u" d="M621 2397H883"/></g>
<g id="p4-b2a"><text class="t" x="432.5" y="2323">活动形式：讨论交流、小品表演等</text><path class="u" d="M427.5 2330H621"/></g>
<g id="p4-b2b"><text class="t" x="375" y="2374">重点：掌握调节情绪的方法，在生活中及时转<tspan x="375" dy="14.8">化消极情绪。</tspan></text><path class="u" d="M368.75 2397H621"/></g>
<g id="p4-b2c"><text class="t" x="375" y="2440">难点：用理性认知取代不合理认知，在实际生<tspan x="375" dy="14.8">活中及时化解自己的消极情绪。</tspan></text><path class="u" d="M368.75 2462H621"/></g>
<g id="p4-c"><text class="t" x="900" y="2531">活动准备：</text><path class="u" d="M883 2539H974"/></g>
<g id="p4-c1"><text class="t" x="651" y="2504.8">1.指导学生排练小品《她陷入情绪的怪圈》</text><path class="u" d="M645 2513.5H883"/></g>
<g id="p4-c2"><text class="t" x="651" y="2556.3">2.准备歌曲《喜洋洋》、《幸福拍手歌》。</text><path class="u" d="M645 2564.4H883"/></g>
<g id="p4-d"><text class="t" x="900" y="2709.7">活动过程：</text><path class="u" d="M883 2717.7H974"/></g>
<g id="p4-d1"><text class="t" x="798" y="2709.7">一、引入课题</text><path class="u" d="M782.5 2717.7H883"/></g>
<g id="p4-d1a"><text class="t" x="536" y="2606.5">同学们，你知道"笑一笑，十年少"是什么道理<tspan x="536" dy="14.8">吗？心情好的时候与心情糟糕的时候你的感觉</tspan><tspan x="536" dy="14.8">有什么不同？谁来与大家分享一下？</tspan></text><path class="u" d="M530 2644.7H782.5"/></g>
<g id="p4-d1b"><text class="t" x="647" y="2687">(学生分享自己的体会)</text><path class="u" d="M634.4 2695.6H782.5"/></g>
<g id="p4-d1c"><text class="t" x="536" y="2738.5">是啊，心情好的时候，我们的脚步更轻快，在<tspan x="536" dy="14.8">我们眼里，天更蓝，草更绿，花更美。心情不</tspan><tspan x="536" dy="14.8">好的时候呢？见什么烦什么，"一边去，烦着</tspan><tspan x="536" dy="14.8">呢！"</tspan></text><path class="u" d="M530 2790.7H782.5"/></g>
<g id="p4-e"><text class="t" x="728" y="3234.7">如果我们经常陷入消极情绪里，会怎样呢？下<tspan x="728" dy="14.8">面请大家欣赏小，边看边思考两个问题：</tspan></text><path class="u" d="M712 3258.8H974"/></g>
<g id="p4-e1"><text class="t" x="525" y="2832.9">1.小品中的人物是什么情绪状态？</text><path class="u" d="M518.75 2842H712"/></g>
<g id="p4-e2"><text class="t" x="465.6" y="2884.5">2.这种情绪状态对她的学习、生活带来什么影<tspan x="465.6" dy="14.8">响？</tspan></text><path class="u" d="M445 2907H712"/></g>
<g id="p4-e2a"><text class="t" x="306" y="2898.5">二、认识消极情绪的危害</text><path class="u" d="M300 2907H445"/></g>
<g id="p4-e3"><text class="t" x="513.75" y="3186.5">1.小品表演《她陷入情绪的怪圈》。</text><path class="u" d="M500 3193.8H712"/></g>
<g id="p4-e3a"><text class="t" x="251" y="2948.7">内容：兰兰拿着刚下发的数学试卷，她得了8<tspan x="251" dy="14.86">7分，有一道选择题她答对了，老师却给她漏</tspan><tspan x="251" dy="14.86">掉了3分，兰兰很生气，她觉得数学老师是故</tspan><tspan x="251" dy="14.86">意的，就是不让达到90分。看到同桌的考试</tspan><tspan x="251" dy="14.86">高兴的神情，兰兰更生气了，有什么了不起，</tspan><tspan x="251" dy="14.86">不就是考了65分吗？不是我平时帮助你，你</tspan><tspan x="251" dy="14.86">能及格吗？放学了，丽丽邀兰兰一同回家，丽</tspan><tspan x="251" dy="14.86">丽安慰兰兰说，没关系，下次肯定能考九十分</tspan><tspan x="251" dy="14.86">以上。兰兰冷冷地说，你聪明，每次都考九十</tspan><tspan x="251" dy="14.86">多分，我笨，好不容易能上九十，那个变态的</tspan><tspan x="251" dy="14.86">老师硬是给我扣下来，让我永世不得翻身了。</tspan><tspan x="251" dy="14.86">丽丽还想再劝说，兰兰不耐烦了，吼道："你</tspan><tspan x="251" dy="14.86">给我走开，少在这里猫哭耗子假慈悲！"……</tspan><tspan x="251" dy="14.86">第二天，兰兰的考卷没让家长签名，她见数学</tspan><tspan x="251" dy="14.86">老师避开走，上数学课时兰兰故意看小说，作</tspan><tspan x="251" dy="14.86">业也随便应付，她觉得周围的人都跟她过不去</tspan><tspan x="251" dy="14.86">。</tspan></text><path class="u" d="M245 3193.8H500"/></g>
<g id="p4-e4"><text class="t" x="525" y="3281">2.学生讨论，教师启发并板书要点</text><path class="u" d="M505 3289H712"/></g>
<g id="p4-e4a"><text class="t" x="262.5" y="3236.7">学生积极讨论以上两个问题，兰兰陷入了消极<tspan x="262.5" dy="14.8">情绪的怪圈。消极情绪导致不良行为，不良行</tspan><tspan x="262.5" dy="14.8">为引起不良后果。这个小品告诉我们什么道理</tspan><tspan x="262.5" dy="14.8">呢？</tspan></text><path class="u" d="M256 3289H505"/></g>
<g id="p4-e5"><text class="t" x="651" y="3390.7">3.归纳：</text><path class="u" d="M640 3400H712"/></g>
<g id="p4-e5a"><text class="t" x="387.5" y="3331.8">消极情绪往往使我们的行为发生种种偏差，造<tspan x="387.5" dy="14.8">成不良后果，不利于学习潜力的发挥，导致学</tspan><tspan x="387.5" dy="14.8">习效率下降，也不利于同学之间的团结互助，</tspan><tspan x="387.5" dy="14.8">与师长对立的消极态度，造成人际关系紧张，</tspan><tspan x="387.5" dy="14.8">严重时还会扭曲性格，甚至影响身体健康。</tspan></text><path class="u" d="M382.5 3400H640"/></g>
<g id="p4-e6"><text class="t" x="639" y="3667">4.启发思考</text><path class="u" d="M623 3674.6H712"/></g>
<g id="p4-e6a"><text class="t" x="377" y="3443">同学们对兰兰有什么好的建议吗？能否帮助她<tspan x="377" dy="14.6">摆脱这个消极情绪怪圈？我们都不愿意做情绪</tspan><tspan x="377" dy="14.6">的奴隶，我们要做自己情绪的主人。请大家思</tspan><tspan x="377" dy="14.6">考，你知道哪些方法可以化解消极情绪？你平</tspan><tspan x="377" dy="14.6">时曾经有意识地调节过自己的消极情绪吗？你</tspan><tspan x="377" dy="14.6">是怎么做的？</tspan></text><path class="u" d="M372 3524.6H623"/></g>
<g id="p4-e6b"><text class="t" x="451" y="3566.8">（学生分享自己的想法与做法）</text><path class="u" d="M440.6 3575.5H623"/></g>
<g id="p4-e6c"><text class="t" x="400" y="3818.6">三、摆脱怪圈，做自己情绪主人活动体验</text><path class="u" d="M383.75 3826.7H623"/></g>
<g id="p4-e6c1"><text class="t" x="298" y="3617.7">说明活动方法</text><path class="u" d="M292 3626.4H383.75"/></g>
<g id="p4-e6c2"><text class="t" x="137.5" y="3668.6">回忆——小组讨论——全班交流——归纳方<tspan x="137.5" dy="14.7">法——联系实际。</tspan></text><path class="u" d="M131.25 3691.4H383.75"/></g>
<g id="p4-e6c3"><text class="t" x="137.5" y="3734">播放音乐《喜洋洋》，学生回忆曾经引起消极<tspan x="137.5" dy="14.7">情绪的事情，当时情绪表现怎样？当时自己是</tspan><tspan x="137.5" dy="14.7">怎么想的？现在怎样看待当时的事情？还有哪</tspan><tspan x="137.5" dy="14.7">些可能？有哪些办法可以走出当时的消极情绪</tspan><tspan x="137.5" dy="14.7">？</tspan></text><path class="u" d="M131.25 3801.9H383.75"/></g>
<g id="p4-e6c4"><text class="t" x="137.5" y="3844.7">小组讨论：当你陷入情绪怪圈时，你用哪些方<tspan x="137.5" dy="14.7">法走了出来？对于调节情绪，你还知道哪些方</tspan><tspan x="137.5" dy="14.7">法？你现在还有哪些情绪困扰，请小组同学帮</tspan><tspan x="137.5" dy="14.7">你支招。</tspan></text><path class="u" d="M131.25 3897H383.75"/></g>
<g id="p4-e6c5"><text class="t" x="137.5" y="3939">教师活动：巡视，了解小组活动进展，适当参<tspan x="137.5" dy="14.7">与小组交流。</tspan></text><path class="u" d="M131.25 3962.6H383.75"/></g>
<g id="p4-e6c6"><text class="t" x="137.5" y="4005.4">全班讨论：教师引导学生班内交流并归纳板书<tspan x="137.5" dy="14.7">结论。</tspan></text><path class="u" d="M131.25 4028H383.75"/></g>
<g id="p4-f"><text class="t" x="843.75" y="4681">调节情绪常用的方法：</text><path class="u" d="M826 4689.4H974"/></g>
<g id="p4-f1"><text class="t" x="580.6" y="4070.4">1.转移注意力：听音乐；《步步高》、《喜相<tspan x="580.6" dy="14.8">逢》、《彩云追月》、《金蛇狂舞》、《喜洋</tspan><tspan x="580.6" dy="14.8">洋》、《夜深沉》、《旱天雷》、《边塞舞曲</tspan><tspan x="580.6" dy="14.8">》、《春节序曲》、《花伞舞曲》、《采花灯</tspan><tspan x="580.6" dy="14.8">》、《苗岭欢歌》、《春天来了》……</tspan></text><path class="u" d="M574.4 4138.7H826"/></g>
<g id="p4-f2"><text class="t" x="580.6" y="4181">2.合理宣泄：体育锻炼，与朋友一起打球，写<tspan x="580.6" dy="14.8">日记，与好友聊天……</tspan></text><path class="u" d="M574.4 4203.7H826"/></g>
<g id="p4-f3"><text class="t" x="697" y="4246.5">3.幽默法：自我解嘲。</text><path class="u" d="M692 4254.6H826"/></g>
<g id="p4-f4"><text class="t" x="580.6" y="4296.7">4.自我安慰：就当是花钱买经验，吃一堑长一<tspan x="580.6" dy="14.8">智，退后是为了向前……</tspan></text><path class="u" d="M574.4 4320H826"/></g>
<g id="p4-f5"><text class="t" x="580.6" y="4363">5.理解宽容：他们也是为了我好，他（她）也<tspan x="580.6" dy="14.8">是没有别的办法。</tspan></text><path class="u" d="M574.4 4385.8H826"/></g>
<g id="p4-f6"><text class="t" x="580.6" y="4427.3">6.调整目标：可能我太过于心急了，什么事情<tspan x="580.6" dy="14.8">都得有个过程，得慢慢来。</tspan></text><path class="u" d="M574.4 4451.4H826"/></g>
<g id="p4-f7"><text class="t" x="580.6" y="4494.3">7.改变认知：事情也许并不这么简单，也许还<tspan x="580.6" dy="14.8">有其他可能，解决这个问题还有其他途径，办</tspan><tspan x="580.6" dy="14.8">法总比困难多。</tspan></text><path class="u" d="M574.4 4532.6H826"/></g>
<g id="p4-f8"><text class="t" x="580.6" y="4607">8.理性升华：用远大目标激励自己，为理想拼<tspan x="580.6" dy="14.8">搏，不必在于那些小事情，不跟某人一般见识</tspan><tspan x="580.6" dy="14.8">。</tspan></text><path class="u" d="M565 4645H826"/></g>
<g id="p4-f8a"><text class="t" x="318" y="4622">四、实践环节——用改变认知的方法来化解<tspan x="318" dy="14.8">消极情绪</tspan></text><path class="u" d="M300 4645H565"/></g>
<g id="p4-f8a1"><text class="t" x="55.6" y="4574.8">回顾小品中的兰兰的想法，我们尝试通过改变<tspan x="55.6" dy="14.8">其中的不合理认知来化解消极情绪。</tspan></text><path class="u" d="M49.4 4597.6H300"/></g>
<g id="p4-f8a2"><text class="t" x="55.6" y="4639.8">板书：结合学生提出的情绪困扰引导学生运用<tspan x="55.6" dy="14.8">改变认识的方法来调节情绪。归纳学生发言中</tspan><tspan x="55.6" dy="14.8">的不合理想法，找出相应的合理的想法，并板</tspan><tspan x="55.6" dy="14.8">书。</tspan></text><path class="u" d="M49.4 4692.8H300"/></g>
<g id="p4-g1"><text class="t" x="598" y="4750.4">1、不合理：寝室长被免职，太丢面子了。</text><path class="u" d="M565 4758.4H826"/></g>
<g id="p4-g1a"><text class="t" x="334.4" y="4735">合理：不当寝室长照样可以严格要求自己，照<tspan x="334.4" dy="14.8">样可以为同学服务。</tspan></text><path class="u" d="M328.75 4758.4H565"/></g>
<g id="p4-g2"><text class="t" x="580.6" y="4801">2、不合理：学习成绩落后，会被别人看不起<tspan x="580.6" dy="14.8">。</tspan></text><path class="u" d="M565 4824H826"/></g>
<g id="p4-g2a"><text class="t" x="317.5" y="4801">合理：学习成绩落后是暂时的，别人未必看不<tspan x="317.5" dy="14.8">起，何况我有许多其他长处。</tspan></text><path class="u" d="M311 4824H565"/></g>
<g id="p4-g3"><text class="t" x="607.5" y="4881.8">3、不合理：我必须在各科成绩都优秀。</text><path class="u" d="M580 4890H826"/></g>
<g id="p4-g3a"><text class="t" x="345.6" y="4866">合理：世界上没有十全十美的人，我可以通过<tspan x="345.6" dy="14.8">努力提高薄弱科目的成绩。</tspan></text><path class="u" d="M339.4 4890H580"/></g>
<g id="p4-g4"><text class="t" x="580.6" y="4947.4">4、不合理：我长得太胖，同学们都不会喜欢<tspan x="580.6" dy="14.8">我。</tspan></text><path class="u" d="M565 4970H826"/></g>
<g id="p4-g4a"><text class="t" x="317.5" y="4932.7">合理：我可以加强锻炼让身体健康，健康就是<tspan x="317.5" dy="14.8">美。我有许多优点，只要我友善待人，大家就</tspan><tspan x="317.5" dy="14.8">会喜欢我。</tspan></text><path class="u" d="M311 4970H565"/></g>
<g id="p4-g5"><text class="t" x="580.6" y="5218">5、不合理：承认错误是一件痛苦的、不光彩<tspan x="580.6" dy="14.8">的事。</tspan></text><path class="u" d="M563.75 5240.4H826"/></g>
<g id="p4-g5a"><text class="t" x="317.5" y="5012.5">合理：人无完人，每个人都会犯错误。勇敢地<tspan x="317.5" dy="14.8">承认错误、改正错误是好事，这是一种好品质</tspan><tspan x="317.5" dy="14.8">。</tspan></text><path class="u" d="M311 5050.7H563.75"/></g>
<g id="p4-g5b"><text class="t" x="467" y="5222">五、归纳小结：</text><path class="u" d="M451 5230H563.75"/></g>
<g id="p4-g5b1"><text class="t" x="204.4" y="5093">从以上讨论分析可以知道，当我们生活中因为<tspan x="204.4" dy="14.8">一些事引起消极情绪时，如果我们能理智地用</tspan><tspan x="204.4" dy="14.8">合理的想法来代替不合理的想法，那么消极情</tspan><tspan x="204.4" dy="14.8">绪就会转变为积极情绪，不良行为也会转变为</tspan><tspan x="204.4" dy="14.8">积极行为。因此，我们要走出情绪怪圈，关键</tspan><tspan x="204.4" dy="14.8">在于改变一下自己不合理的、错误的想法。决</tspan><tspan x="204.4" dy="14.8">定情绪并不是事情，而我们看待事情的态度。</tspan></text><path class="u" d="M198 5190H451"/></g>
<g id="p4-g5b2"><text class="t" x="204.4" y="5232.3">通过这堂课的学习，同学们了解了许多调节情<tspan x="204.4" dy="14.8">绪的方法，尤其是找到了适合自己的调节情绪</tspan><tspan x="204.4" dy="14.8">的方法。真正做到我的情绪我作主。</tspan></text><path class="u" d="M198 5270.5H451"/></g>
<g id="p4-g5c"><text class="t" x="432.5" y="5357.7">六、实践（课外作业）</text><path class="u" d="M420 5365.7H563.75"/></g>
<g id="p4-g5c1"><text class="t" x="170" y="5312.7">根据自己的情绪特点，找到适合自己的调节情<tspan x="170" dy="14.8">绪的方法。当自己有了消极情绪时通过自我调</tspan><tspan x="170" dy="14.8">节，以积极情绪战胜消极情绪，做自己情绪的</tspan><tspan x="170" dy="14.8">主人。</tspan></text><path class="u" d="M165 5365.7H420"/></g>
<g id="p4-g5d"><text class="t" x="501" y="5422.7">七、尾声</text><path class="u" d="M490 5431.4H563.75"/></g>
<g id="p4-g5d1"><text class="t" x="238.75" y="5408">播放歌曲《幸福拍手歌》，在师生的合唱中结<tspan x="238.75" dy="14.8">束本节班会。</tspan></text><path class="u" d="M232.5 5431.4H490"/></g>

<g id="watermarks">
<text class="wm" text-anchor="middle" transform="translate(1925 550) rotate(-32)">树图 shutu.cn</text>
<text class="wm" text-anchor="middle" transform="translate(1925 1558) rotate(-32)">树图 shutu.cn</text>
<text class="wm" text-anchor="middle" transform="translate(1920 2560) rotate(-32)">树图 shutu.cn</text>
<text class="wm" text-anchor="middle" transform="translate(1925 3552) rotate(-32)">树图 shutu.cn</text>
<text class="wm" text-anchor="middle" transform="translate(1925 4551) rotate(-32)">树图 shutu.cn</text>
<text class="wm" text-anchor="middle" transform="translate(1925 5250) rotate(-32)">树图 shutu.cn</text>
<text class="wm" text-anchor="middle" transform="translate(645 558) rotate(-32)">树图 shutu.cn</text>
<text class="wm" text-anchor="middle" transform="translate(645 1567) rotate(-32)">树图 shutu.cn</text>
<text class="wm" text-anchor="middle" transform="translate(645 2558) rotate(-32)">树图 shutu.cn</text>
<text class="wm" text-anchor="middle" transform="translate(645 3560) rotate(-32)">树图 shutu.cn</text>
<text class="wm" text-anchor="middle" transform="translate(645 4560) rotate(-32)">树图 shutu.cn</text>
<text class="wm" text-anchor="middle" transform="translate(760 5250) rotate(-32)">树图 shutu.cn</text>
</g>
</g>
</svg>
